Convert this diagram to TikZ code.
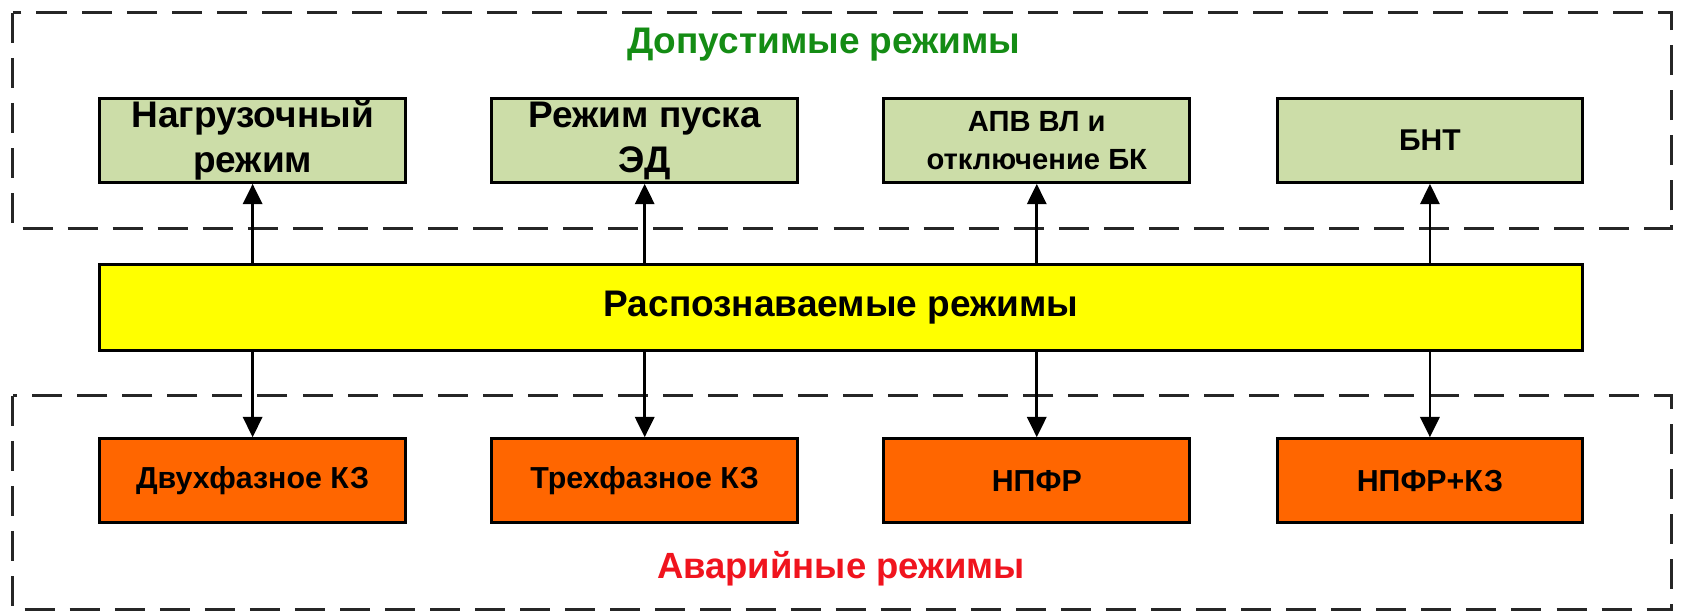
\documentclass[tikz,border=0pt]{standalone}
\usepackage{fontspec}
\setmainfont{Liberation Sans}
\usetikzlibrary{arrows.meta}
\definecolor{boxgreen}{RGB}{204,221,168}
\definecolor{boxorange}{RGB}{255,102,0}
\definecolor{boxyellow}{RGB}{255,255,0}
\definecolor{titlegreen}{RGB}{20,140,20}
\definecolor{titlered}{RGB}{240,20,30}
\tikzset{
  blk/.style={draw=black, line width=2.8pt, minimum width=285pt, minimum height=78pt,
    inner sep=0pt, align=center, font=\fontsize{34.5}{42}\selectfont\bfseries},
  okbox/.style={blk, fill=boxgreen},
  failbox/.style={blk, fill=boxorange, font=\fontsize{28.3}{34}\selectfont\bfseries},
  zone/.style={draw=black!85, line width=2.6pt, dash pattern=on 28pt off 14pt},
  arr/.style={draw=black, line width=2.4pt, -{Triangle[length=19pt,width=18pt]}},
}
\begin{document}
\begin{tikzpicture}[x=1pt,y=-1pt]
\useasboundingbox (0,0) rectangle (1568,573);
% zones
\draw[zone] (12,12) rectangle (1558,213);
\draw[zone] (12,369) rectangle (1558,568);
\node[text=titlegreen, font=\fontsize{34.5}{40}\selectfont\bfseries] (tok) at (768,42) {Допустимые режимы};
\node[text=titlered, font=\fontsize{34}{40}\selectfont\bfseries] (tfail) at (784,530) {Аварийные режимы};
% upper boxes
\node[okbox] (u1) at (235.5,131) {Нагрузочный\\режим};
\node[okbox] (u2) at (601,131) {Режим пуска\\ЭД};
\node[okbox, font=\fontsize{27.2}{35}\selectfont\bfseries] (u3) at (966.5,131) {АПВ ВЛ и\\отключение БК};
\node[okbox, font=\fontsize{28}{34}\selectfont\bfseries] (u4) at (1333,131) {БНТ};
% middle
\node[blk, fill=boxyellow, minimum width=1382pt, minimum height=80pt] (mid) at (784,287) {Распознаваемые режимы};
% lower boxes
\node[failbox] (d1) at (235.5,448) {Двухфазное КЗ};
\node[failbox] (d2) at (601,448) {Трехфазное КЗ};
\node[failbox] (d3) at (966.5,448) {НПФР};
\node[failbox] (d4) at (1333,448) {НПФР+КЗ};
% arrows
\foreach \i in {1,2,3,4}{
  \draw[arr] (mid.north -| u\i) -- (u\i.south);
  \draw[arr] (mid.south -| d\i) -- (d\i.north);
}
\end{tikzpicture}
\end{document}
